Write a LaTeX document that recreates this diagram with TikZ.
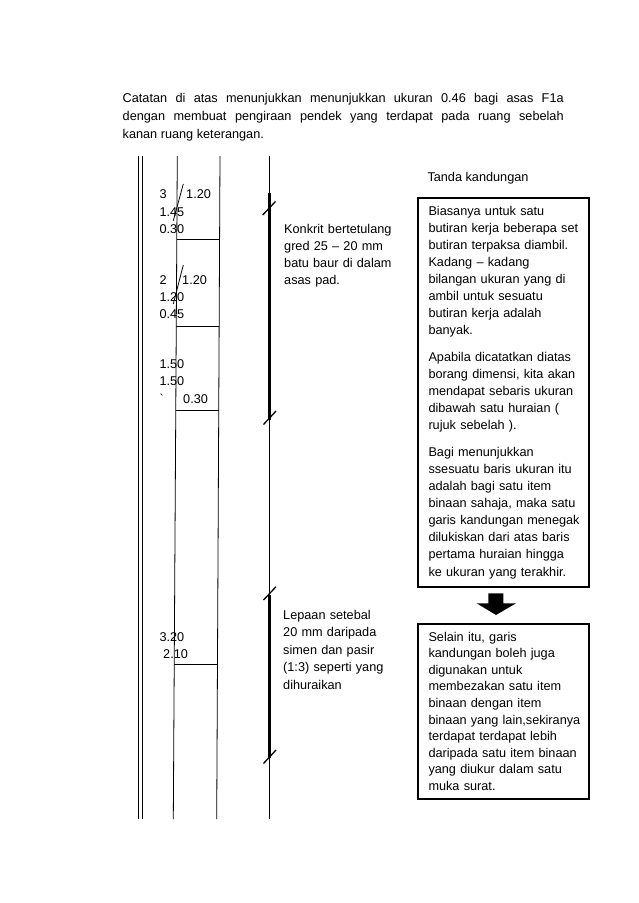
\documentclass[tikz,border=0pt]{standalone}
\usepackage{fontspec}
\setmainfont{Liberation Sans}
\newfontfamily\rawsans{Liberation Sans}
\begin{document}
\begin{tikzpicture}[x=1pt,y=-1pt,
  txt/.style={inner sep=0pt, anchor=base west, font=\fontsize{12.7}{16.5}\selectfont},
  thinline/.style={line width=0.8pt},
  barline/.style={line width=2.6pt},
  tickline/.style={line width=1.3pt},
  boxframe/.style={draw, line width=1.8pt, inner sep=0pt, anchor=north west}
]
\useasboundingbox (0,0) rectangle (638,903);

% top paragraph
\node[txt, text width=441pt, align=justify, font=\fontsize{12.7}{18}\selectfont] (intro) at (122.5,102)
 {Catatan di atas menunjukkan menunjukkan ukuran 0.46 bagi asas F1a\linebreak
  dengan membuat pengiraan pendek yang terdapat pada ruang sebelah\linebreak
  kanan ruang keterangan.};

% column lines
\coordinate (d1t) at (138.7,156); \coordinate (d1b) at (138.7,819);
\coordinate (d2t) at (142.7,156); \coordinate (d2b) at (142.7,819);
\coordinate (c1t) at (177.3,156); \coordinate (c1b) at (173.3,819);
\coordinate (c2t) at (220,156);   \coordinate (c2b) at (216.7,819);
\coordinate (c3t) at (269.3,156); \coordinate (c3b) at (269.3,819);
\draw[thinline] (d1t) -- (d1b);
\draw[thinline] (d2t) -- (d2b);
\draw[thinline] (c1t) -- (c1b);
\draw[thinline] (c2t) -- (c2b);
\draw[thinline] (c3t) -- (c3b);

% horizontal rules
\draw[thinline] (176.8,239) -- (219.6,239);
\draw[thinline] (176.3,326) -- (219.2,326);
\draw[thinline] (175.8,410) -- (218.7,410);
\draw[thinline] (174.2,664) -- (217.5,664);

% numbers group 1
\node[txt] (n3) at (159.3,198) {3};
\node[txt] (n120a) at (186,198) {1.20};
\node[txt] (n145) at (159.3,216) {1.45};
\node[txt] (n030a) at (159.3,233) {0.30};
\draw[thinline] (173.3,220.7) -- (183.3,184);
% group 2
\node[txt] (n2) at (159.3,284) {2};
\node[txt] (n120b) at (182,284) {1.20};
\node[txt] (n120c) at (159.3,301) {1.20};
\node[txt] (n045) at (159.3,318) {0.45};
\draw[thinline] (173.3,304) -- (183.3,265);
% group 3
\node[txt] (n150a) at (159.3,368) {1.50};
\node[txt] (n150b) at (159.3,385) {1.50};
\node[txt, font=\rawsans\fontsize{12.7}{16.5}\selectfont] (ntick) at (159.5,403) {`};
\node[txt] (n030b) at (183,403) {0.30};
% group 4
\node[txt] (n320) at (159.3,641) {3.20};
\node[txt] (n210) at (163,658) {2.10};

% thick bars with ticks
\coordinate (b1t) at (269.3,192.7); \coordinate (b1b) at (269.3,420);
\draw[barline] (b1t) -- (b1b);
\draw[tickline] (262.7,215) -- (275.5,201.5);
\draw[tickline] (263.5,424.5) -- (276,411);
\coordinate (b2t) at (269.3,595); \coordinate (b2b) at (269.3,758);
\draw[barline] (b2t) -- (b2b);
\draw[tickline] (263.5,600) -- (276,586.7);
\draw[tickline] (263.5,763.5) -- (276,750);

% middle texts
\node[txt, font=\fontsize{12.7}{17.2}\selectfont, text width=125pt, align=left] (konkrit) at (284,233)
 {Konkrit bertetulang\\ gred 25 -- 20 mm\\ batu baur di dalam\\ asas pad.};
\node[txt, font=\fontsize{12.7}{17.5}\selectfont, text width=125pt, align=left] (lepaan) at (283,619)
 {Lepaan setebal\\ 20 mm daripada\\ simen dan pasir\\ (1:3) seperti yang\\ dihuraikan};

% right side
\node[txt] (tanda) at (427.3,181) {Tanda kandungan};
\node[boxframe, minimum width=171pt, minimum height=389pt] (box1) at (417.3,197.3) {};
\node[txt, font=\fontsize{12.7}{17.1}\selectfont, text width=158pt, align=left] (box1text) at (428.3,215)
 {Biasanya untuk satu\\ butiran kerja beberapa set\\ butiran terpaksa diambil.\\ Kadang -- kadang\\ bilangan ukuran yang di\\ ambil untuk sesuatu\\ butiran kerja adalah\\ banyak.\\[9.5pt]
  Apabila dicatatkan diatas\\ borang dimensi, kita akan\\ mendapat sebaris ukuran\\ dibawah satu huraian (\\ rujuk sebelah ).\\[9.5pt]
  Bagi menunjukkan\\ ssesuatu baris ukuran itu\\ adalah bagi satu item\\ binaan sahaja, maka satu\\ garis kandungan menegak\\ dilukiskan dari atas baris\\ pertama huraian hingga\\ ke ukuran yang terakhir.};

\node[boxframe, minimum width=171pt, minimum height=175pt] (box2) at (417.3,623.3) {};
\node[txt, font=\fontsize{12.7}{16.6}\selectfont, text width=158pt, align=left] (box2text) at (428.3,641)
 {Selain itu, garis\\ kandungan boleh juga\\ digunakan untuk\\ membezakan satu item\\ binaan dengan item\\ binaan yang lain,sekiranya\\ terdapat terdapat lebih\\ daripada satu item binaan\\ yang diukur dalam satu\\ muka surat.};

% block arrow
\fill (488.3,593.3) -- (503.3,593.3) -- (503.3,603.3) -- (516,603.3) -- (496,615) -- (476.7,603.3) -- (488.3,603.3) -- cycle;
\end{tikzpicture}
\end{document}
